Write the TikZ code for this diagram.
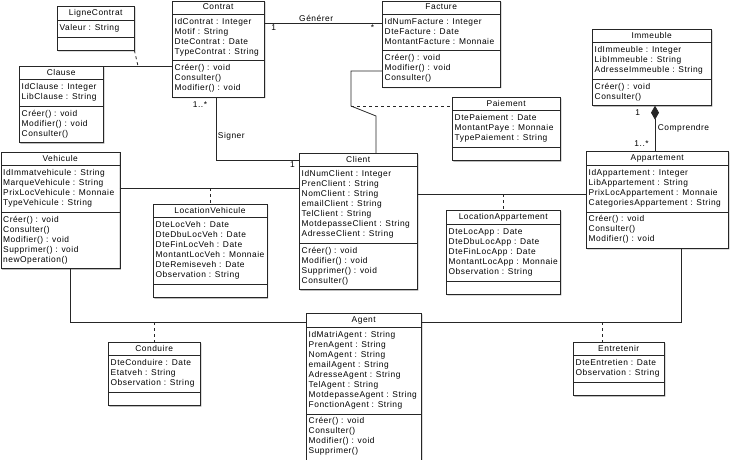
\documentclass[tikz,border=0pt]{standalone}
\usepackage{fontspec}
\setmainfont{Liberation Sans}[LetterSpace=6]
\usetikzlibrary{shapes.multipart, arrows.meta, shadows}

\newcommand{\classfont}{\fontsize{8.4}{10}\selectfont}
\newcommand{\lignes}[1]{\begin{tabular}{@{}l@{}}#1\end{tabular}}
\newcommand{\titre}[1]{\rule[-1pt]{0pt}{7pt}#1}
\newcommand{\vide}{\rule[-1pt]{0pt}{7pt}}

\tikzset{
  classe/.style={draw=black!85, rectangle split, rectangle split parts=3,
    rectangle split part align={center,left,left}, anchor=north west,
    inner xsep=2.5pt, inner ysep=3pt, fill=white, font=\classfont,
    drop shadow={shadow xshift=1.2pt, shadow yshift=-1.2pt, fill=black!40, opacity=1}},
  lien/.style={draw=black!85, line width=0.8pt},
  assoc/.style={draw=black!85, dashed, line width=0.8pt},
  mult/.style={font=\classfont, inner sep=1.5pt},
}

\begin{document}
\begin{tikzpicture}[x=1pt, y=-1pt]
  \useasboundingbox (0,0) rectangle (730,459);

  % classes
  \node[classe, minimum width=77pt] (ligne) at (57,6) {\titre{LigneContrat}
    \nodepart{two}\lignes{Valeur : String}
    \nodepart{three}\vide};
  \node[classe, minimum width=92pt] (contrat) at (172,0.5) {\titre{Contrat}
    \nodepart{two}\lignes{IdContrat : Integer\\Motif : String\\DteContrat : Date\\TypeContrat : String}
    \nodepart{three}\lignes{Créer() : void\\Consulter()\\Modifier() : void}};
  \node[classe, minimum width=118pt] (facture) at (382,0.5) {\titre{Facture}
    \nodepart{two}\lignes{IdNumFacture : Integer\\DteFacture : Date\\MontantFacture : Monnaie}
    \nodepart{three}\lignes{Créer() : void\\Modifier() : void\\Consulter()}};
  \node[classe, minimum width=84pt] (clause) at (19,66) {\titre{Clause}
    \nodepart{two}\lignes{IdClause : Integer\\LibClause : String}
    \nodepart{three}\lignes{Créer() : void\\Modifier() : void\\Consulter()}};
  \node[classe, minimum width=108pt] (paiement) at (452,97) {\titre{Paiement}
    \nodepart{two}\lignes{DtePaiement : Date\\MontantPaye : Monnaie\\TypePaiement : String}
    \nodepart{three}\vide};
  \node[classe, minimum width=119pt] (immeuble) at (592,29) {\titre{Immeuble}
    \nodepart{two}\lignes{IdImmeuble : Integer\\LibImmeuble : String\\AdresseImmeuble : String}
    \nodepart{three}\lignes{Créer() : void\\Consulter()}};
  \node[classe, minimum width=119pt] (vehicule) at (0.5,152) {\titre{Vehicule}
    \nodepart{two}\lignes{IdImmatvehicule : String\\MarqueVehicule : String\\PrixLocVehicule : Monnaie\\TypeVehicule : String}
    \nodepart{three}\lignes{Créer() : void\\Consulter()\\Modifier() : void\\Supprimer() : void\\newOperation()}};
  \node[classe, minimum width=118pt] (client) at (299,153) {\titre{Client}
    \nodepart{two}\lignes{IdNumClient : Integer\\PrenClient : String\\NomClient : String\\emailClient : String\\TelClient : String\\MotdepasseClient : String\\AdresseClient : String}
    \nodepart{three}\lignes{Créer() : void\\Modifier() : void\\Supprimer() : void\\Consulter()}};
  \node[classe, minimum width=113pt] (locveh) at (153,204) {\titre{LocationVehicule}
    \nodepart{two}\lignes{DteLocVeh : Date\\DteDbuLocVeh : Date\\DteFinLocVeh : Date\\MontantLocVeh : Monnaie\\DteRemiseveh : Date\\Observation : String}
    \nodepart{three}\vide};
  \node[classe, minimum width=113pt] (locapp) at (446,210) {\titre{LocationAppartement}
    \nodepart{two}\lignes{DteLocApp : Date\\DteDbuLocApp : Date\\DteFinLocApp : Date\\MontantLocApp : Monnaie\\Observation : String}
    \nodepart{three}\vide};
  \node[classe, minimum width=142pt] (appart) at (586,151) {\titre{Appartement}
    \nodepart{two}\lignes{IdAppartement : Integer\\LibAppartement : String\\PrixLocAppartement : Monnaie\\CategoriesAppartement : String}
    \nodepart{three}\lignes{Créer() : void\\Consulter()\\Modifier() : void}};
  \node[classe, minimum width=92pt] (conduire) at (108,342) {\titre{Conduire}
    \nodepart{two}\lignes{DteConduire : Date\\Etatveh : String\\Observation : String}
    \nodepart{three}\vide};
  \node[classe, minimum width=115pt] (agent) at (306,313) {\titre{Agent}
    \nodepart{two}\lignes{IdMatriAgent : String\\PrenAgent : String\\NomAgent : String\\emailAgent : String\\AdresseAgent : String\\TelAgent : String\\MotdepasseAgent : String\\FonctionAgent : String}
    \nodepart{three}\lignes{Créer() : void\\Consulter()\\Modifier() : void\\Supprimer()}};
  \node[classe, minimum width=91pt] (entretenir) at (573,342) {\titre{Entretenir}
    \nodepart{two}\lignes{DteEntretien : Date\\Observation : String}
    \nodepart{three}\vide};

  % points de passage
  \coordinate (g) at (0,23);
  \coordinate (s1) at (216,0);
  \coordinate (s2) at (0,160);
  \coordinate (f1) at (351,71);
  \coordinate (f2) at (351,106);
  \coordinate (f3) at (376,116);
  \coordinate (c1) at (138,66);
  \coordinate (v1) at (0,188);
  \coordinate (a1) at (0,194);
  \coordinate (i1) at (655,0);
  \coordinate (w1) at (70,322);
  \coordinate (e1) at (681,322);
  \coordinate (e2) at (602,322);

  % associations
  \draw[lien] (contrat.east |- g) -- node[mult, above, pos=.44]{Générer}
    node[mult, below, pos=.08]{1} node[mult, below, pos=.92]{*} (facture.west |- g);
  \draw[lien] (contrat.south -| s1) -- node[mult, pos=.12, left=7pt]{1..*}
    node[mult, pos=.62, right]{Signer} (s1 |- s2)
    -- node[mult, pos=.92, below]{1} (client.west |- s2);
  \draw[lien] (facture.west |- f1) -- (f1) -- (f2) -- (f3) -- (client.north -| f3);
  \draw[assoc] (f2) -- (paiement.west |- f2);
  \draw[lien] (clause.north east) -- (clause.north east -| contrat.west);
  \draw[assoc] (ligne.south east) -- (c1);
  \draw[lien] (vehicule.east |- v1) -- (client.west |- v1);
  \draw[assoc] (locveh.north |- v1) -- (locveh.north);
  \draw[lien] (client.east |- a1) -- (appart.west |- a1);
  \draw[assoc] (locapp.north |- a1) -- (locapp.north);
  \draw[lien, {Diamond[length=14pt, width=8pt]}-] (immeuble.south -| i1)
    -- node[mult, pos=.15, left=13pt]{1} node[mult, pos=.49, right=1pt]{Comprendre}
    node[mult, pos=.83, left=4.5pt]{1..*} (appart.north -| i1);
  \draw[lien] (vehicule.south -| w1) -- (w1) -- (agent.west |- w1);
  \draw[assoc] (conduire.north |- w1) -- (conduire.north);
  \draw[lien] (agent.east |- e1) -- (e1) -- (appart.south -| e1);
  \draw[assoc] (e2) -- (entretenir.north -| e2);
\end{tikzpicture}
\end{document}
